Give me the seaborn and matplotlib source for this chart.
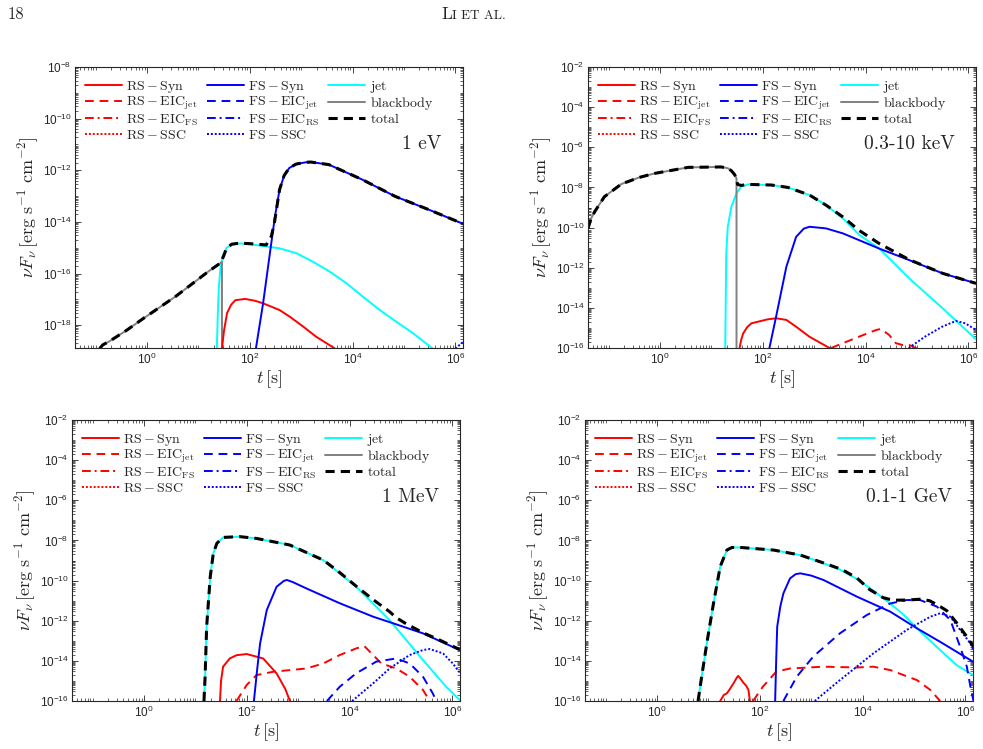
import numpy as np
import matplotlib
matplotlib.use("Agg")
import matplotlib.pyplot as plt
from matplotlib.lines import Line2D
from matplotlib import ticker
import seaborn as sns

# ---------------- data (log10 t [s], log10 nuFnu) ----------------
# Panel A : 1 eV
A_bb_t = [-0.92, -0.86, -0.73, -0.40, -0.08, 0.56, 1.20, 1.35, 1.43, 1.46, 1.46]
A_bb_F = [-18.9, -18.76, -18.62, -18.2, -17.75, -16.88, -15.91, -15.7, -15.59, -15.55, -18.9]
A_jet_t = [1.36, 1.38, 1.40, 1.43, 1.47, 1.55, 1.65, 1.80, 2.00, 2.26, 2.58, 2.91, 3.23, 3.555, 3.88, 4.20, 4.53, 4.85, 5.18, 5.43, 5.56]
A_jet_F = [-18.9, -17.5, -16.5, -15.8, -15.35, -15.0, -14.88, -14.83, -14.86, -14.93, -15.02, -15.21, -15.54, -15.92, -16.37, -16.89, -17.41, -17.86, -18.31, -18.70, -18.9]
A_rssyn_t = [1.46, 1.50, 1.56, 1.64, 1.72, 1.91, 2.10, 2.26, 2.58, 2.78, 3.04, 3.29, 3.65]
A_rssyn_F = [-18.9, -18.2, -17.52, -17.2, -17.03, -16.98, -17.05, -17.15, -17.41, -17.67, -18.05, -18.44, -18.89]
A_fssyn_t = [2.12, 2.26, 2.40, 2.49, 2.58, 2.67, 2.77, 2.90, 3.09, 3.19, 3.54, 4.19, 4.83, 5.48, 6.15]
A_fssyn_F = [-18.9, -17.15, -15.1, -13.8, -12.75, -12.2, -11.91, -11.76, -11.69, -11.68, -11.78, -12.36, -13.01, -13.52, -14.07]
A_fsssc_t = [6.00, 6.15]
A_fsssc_F = [-18.9, -18.65]
A_tot_t = [-0.92, -0.86, -0.73, -0.40, -0.08, 0.56, 1.20, 1.43, 1.49, 1.55, 1.65, 1.80, 2.00, 2.20, 2.32,
           2.42, 2.48, 2.58, 2.67, 2.77, 2.90, 3.09, 3.19, 3.54, 4.19, 4.83, 5.48, 6.15]
A_tot_F = [-18.9, -18.76, -18.62, -18.2, -17.75, -16.88, -15.91, -15.59, -15.33, -15.01, -14.86, -14.82, -14.84, -14.87, -14.89,
           -14.56, -14.04, -12.75, -12.2, -11.91, -11.76, -11.69, -11.68, -11.78, -12.36, -13.01, -13.52, -14.07]

# Panel B : 0.3-10 keV
B_bb_t = [-1.40, -1.34, -1.27, -1.08, -0.75, -0.40, -0.10, 0.55, 1.19, 1.32, 1.39, 1.45, 1.49, 1.49]
B_bb_F = [-10.04, -9.55, -9.21, -8.46, -7.83, -7.5, -7.30, -7.0, -6.98, -7.04, -7.17, -7.35, -7.55, -16.0]
B_jet_t = [1.27, 1.29, 1.32, 1.39, 1.49, 1.58, 1.71, 2.17, 2.49, 2.91, 3.23, 3.56, 3.88, 4.27, 4.85, 5.50, 6.15]
B_jet_F = [-16.0, -11.28, -9.96, -8.96, -8.29, -7.96, -7.85, -7.88, -8.0, -8.38, -8.88, -9.54, -10.37, -11.05, -12.53, -14.02, -15.56]
B_rssyn_t = [1.55, 1.58, 1.62, 1.70, 1.78, 2.10, 2.26, 2.46, 2.65, 2.91, 3.30]
B_rssyn_F = [-16.0, -15.6, -15.27, -14.95, -14.77, -14.57, -14.52, -14.6, -14.94, -15.44, -16.0]
B_rseic_t = [3.33, 3.56, 3.88, 4.21, 4.30, 4.46, 4.59, 4.72, 4.85, 4.98, 5.05]
B_rseic_F = [-16.0, -15.76, -15.43, -15.10, -15.05, -15.35, -15.76, -15.85, -15.85, -16.0, -16.1]
B_fssyn_t = [2.13, 2.26, 2.46, 2.65, 2.80, 2.91, 3.23, 3.56, 4.27, 4.85, 5.50, 6.15]
B_fssyn_F = [-16.0, -14.44, -11.95, -10.46, -10.05, -9.96, -10.04, -10.29, -11.05, -11.62, -12.28, -12.78]
B_fsssc_t = [4.84, 5.16, 5.49, 5.76, 5.94, 6.15]
B_fsssc_F = [-16.0, -15.43, -14.94, -14.65, -14.77, -15.10]
B_tot_t = [-1.40, -1.34, -1.27, -1.08, -0.75, -0.40, -0.10, 0.55, 1.19, 1.32, 1.39, 1.45, 1.49, 1.51, 1.58,
           1.71, 2.17, 2.49, 2.91, 3.23, 3.56, 3.88, 4.27, 4.85, 5.50, 6.15]
B_tot_F = [-10.04, -9.55, -9.21, -8.46, -7.83, -7.5, -7.30, -7.0, -6.98, -7.04, -7.17, -7.35, -7.55, -7.85, -7.9,
           -7.85, -7.88, -8.0, -8.38, -8.88, -9.47, -10.15, -10.8, -11.6, -12.28, -12.78]

# Panel C : 1 MeV
C_jet_t = [1.168, 1.19, 1.22, 1.29, 1.35, 1.42, 1.54, 1.86, 2.19, 2.84, 3.49, 4.13, 4.78, 5.43, 5.88, 6.15]
C_jet_F = [-16.0, -14.79, -12.30, -9.81, -8.64, -8.14, -7.85, -7.81, -7.90, -8.23, -8.98, -10.31, -11.97, -13.96, -15.29, -15.97]
C_rssyn_t = [1.48, 1.50, 1.54, 1.67, 1.80, 2.00, 2.32, 2.58, 2.75, 2.84]
C_rssyn_F = [-16.0, -15.0, -14.29, -13.88, -13.72, -13.66, -13.88, -14.62, -15.4, -16.0]
C_rseic_t = [1.80, 2.00, 2.19, 2.52, 3.16, 3.49, 3.81, 4.13, 4.29, 4.46, 4.62, 4.91, 5.17, 5.43, 5.56]
C_rseic_F = [-16.0, -15.2, -14.71, -14.54, -14.38, -14.13, -13.71, -13.38, -13.27, -13.71, -14.13, -14.38, -14.79, -15.45, -16.0]
C_fssyn_t = [2.14, 2.20, 2.26, 2.39, 2.58, 2.72, 2.78, 2.90, 3.16, 3.81, 4.46, 4.85, 5.43, 6.14]
C_fssyn_F = [-16.0, -14.5, -13.13, -11.47, -10.31, -10.02, -9.97, -10.08, -10.39, -11.13, -11.80, -12.13, -12.63, -13.46]
C_fseic_t = [3.56, 3.81, 4.13, 4.52, 4.91, 5.17, 5.43, 5.62, 5.69]
C_fseic_F = [-16.0, -15.29, -14.62, -14.04, -13.88, -14.13, -14.79, -15.62, -16.0]
C_fsssc_t = [4.05, 4.46, 4.78, 5.17, 5.43, 5.56, 5.82, 6.01, 6.15]
C_fsssc_F = [-16.0, -15.12, -14.38, -13.71, -13.46, -13.41, -13.63, -14.13, -14.6]
C_tot_t = [1.168, 1.19, 1.22, 1.29, 1.35, 1.42, 1.54, 1.86, 2.19, 2.84, 3.49, 3.81, 4.13, 4.46, 4.78, 4.91, 5.10, 5.43, 5.75, 6.14]
C_tot_F = [-16.0, -14.79, -12.30, -9.81, -8.64, -8.14, -7.85, -7.81, -7.90, -8.23, -8.98, -9.6, -10.28, -10.95, -11.55, -11.85, -12.15, -12.6, -12.96, -13.43]

# Panel D : 0.1-1 GeV
D_jet_t = [0.80, 0.87, 0.97, 1.10, 1.23, 1.36, 1.46, 1.62, 2.27, 2.79, 3.24, 3.56, 3.89, 4.21, 4.54, 4.80, 5.06, 5.51, 5.83, 6.15]
D_jet_F = [-16.0, -14.79, -13.13, -11.14, -9.31, -8.48, -8.35, -8.35, -8.48, -8.73, -9.14, -9.45, -9.92, -10.5, -11.15, -11.7, -12.38, -13.46, -14.21, -14.71]
D_rssyn_t = [1.23, 1.30, 1.36, 1.42, 1.49, 1.55, 1.58, 1.63, 1.68, 1.74, 1.78, 1.81]
D_rssyn_F = [-16.0, -15.7, -15.62, -15.4, -15.12, -14.85, -14.75, -14.9, -15.08, -15.25, -15.45, -16.0]
D_rseic_t = [1.87, 2.06, 2.32, 2.59, 3.24, 3.89, 4.21, 4.54, 5.06, 5.32, 5.51]
D_rseic_F = [-16.0, -15.29, -14.54, -14.38, -14.29, -14.33, -14.29, -14.46, -14.96, -15.45, -16.0]
D_fssyn_t = [2.30, 2.32, 2.34, 2.40, 2.46, 2.59, 2.70, 2.79, 3.00, 3.24, 3.89, 4.54, 5.06, 5.51, 6.15]
D_fssyn_F = [-16.0, -14.0, -12.30, -11.3, -10.64, -9.89, -9.68, -9.64, -9.75, -9.97, -10.80, -11.55, -12.38, -13.05, -14.04]
D_fseic_t = [2.46, 2.72, 3.04, 3.56, 4.08, 4.54, 4.86, 5.12, 5.45, 5.71, 5.90, 6.03, 6.10, 6.16]
D_fseic_F = [-16.0, -14.79, -13.79, -12.63, -11.72, -11.14, -10.97, -10.97, -11.30, -11.97, -13.30, -14.29, -15.29, -16.0]
D_fsssc_t = [3.07, 3.56, 4.21, 4.86, 5.32, 5.51, 5.71, 5.90, 6.10, 6.16]
D_fsssc_F = [-16.0, -14.96, -13.63, -12.46, -11.80, -11.63, -11.80, -12.46, -13.13, -13.46]
D_tot_t = [0.80, 0.87, 0.97, 1.10, 1.23, 1.36, 1.46, 1.62, 2.27, 2.79, 3.24, 3.60, 3.89, 4.14, 4.40, 4.59, 4.86,
           5.12, 5.30, 5.45, 5.64, 5.83, 6.03, 6.16]
D_tot_F = [-16.0, -14.79, -13.13, -11.14, -9.31, -8.48, -8.35, -8.35, -8.48, -8.73, -9.12, -9.45, -9.87, -10.45, -10.85, -10.98, -10.97,
           -10.93, -11.0, -11.2, -11.5, -12.1, -12.8, -13.3]

band_labels = ["1 eV", "0.3-10 keV", "1 MeV", "0.1-1 GeV"]
ylog_limits = [(-18.88, -8.0), (-16.0, -2.0), (-16.0, -2.0), (-16.0, -2.0)]
xlog_limits = (-1.4, 6.15)
xtick_vals = [1e0, 1e2, 1e4, 1e6]

legend_keys = ["rssyn", "rseic", "rseicfs", "rsssc", "fssyn", "fseic", "fseicrs", "fsssc", "jet", "bb", "tot"]
legend_labels = [r"$\mathrm{RS}-\mathrm{Syn}$", r"$\mathrm{RS}-\mathrm{EIC_{jet}}$", r"$\mathrm{RS}-\mathrm{EIC_{FS}}$",
                 r"$\mathrm{RS}-\mathrm{SSC}$", r"$\mathrm{FS}-\mathrm{Syn}$", r"$\mathrm{FS}-\mathrm{EIC_{jet}}$",
                 r"$\mathrm{FS}-\mathrm{EIC_{RS}}$", r"$\mathrm{FS}-\mathrm{SSC}$", r"$\mathrm{jet}$",
                 r"$\mathrm{blackbody}$", r"$\mathrm{total}$"]

panels = [
    {"jet": (A_jet_t, A_jet_F), "bb": (A_bb_t, A_bb_F), "rssyn": (A_rssyn_t, A_rssyn_F),
     "fssyn": (A_fssyn_t, A_fssyn_F), "fsssc": (A_fsssc_t, A_fsssc_F), "tot": (A_tot_t, A_tot_F)},
    {"jet": (B_jet_t, B_jet_F), "bb": (B_bb_t, B_bb_F), "rssyn": (B_rssyn_t, B_rssyn_F),
     "rseic": (B_rseic_t, B_rseic_F), "fssyn": (B_fssyn_t, B_fssyn_F), "fsssc": (B_fsssc_t, B_fsssc_F),
     "tot": (B_tot_t, B_tot_F)},
    {"jet": (C_jet_t, C_jet_F), "rssyn": (C_rssyn_t, C_rssyn_F), "rseic": (C_rseic_t, C_rseic_F),
     "fssyn": (C_fssyn_t, C_fssyn_F), "fseic": (C_fseic_t, C_fseic_F), "fsssc": (C_fsssc_t, C_fsssc_F),
     "tot": (C_tot_t, C_tot_F)},
    {"jet": (D_jet_t, D_jet_F), "rssyn": (D_rssyn_t, D_rssyn_F), "rseic": (D_rseic_t, D_rseic_F),
     "fssyn": (D_fssyn_t, D_fssyn_F), "fseic": (D_fseic_t, D_fseic_F), "fsssc": (D_fsssc_t, D_fsssc_F),
     "tot": (D_tot_t, D_tot_F)},
]

# ---------------- styling ----------------
sns.set_theme(style="ticks")
plt.rcParams["font.family"] = ["Liberation Sans", "DejaVu Sans"]
plt.rcParams["mathtext.fontset"] = "cm"
plt.rcParams["axes.linewidth"] = 0.8
plt.rcParams["axes.edgecolor"] = "#262626"

RED, BLUE, CYAN, GRAY = "#FF0000", "#0000FF", "#00FFFF", "#808080"
styles = {
    "rssyn": dict(color=RED, lw=1.4, ls="-"),
    "rseic": dict(color=RED, lw=1.4, ls=(0, (4.5, 3))),
    "rseicfs": dict(color=RED, lw=1.4, ls=(0, (4.5, 2, 1, 2))),
    "rsssc": dict(color=RED, lw=1.4, ls=(0, (1, 1))),
    "fssyn": dict(color=BLUE, lw=1.4, ls="-"),
    "fseic": dict(color=BLUE, lw=1.4, ls=(0, (4.5, 3))),
    "fseicrs": dict(color=BLUE, lw=1.4, ls=(0, (4.5, 2, 1, 2))),
    "fsssc": dict(color=BLUE, lw=1.4, ls=(0, (1, 1))),
    "jet": dict(color=CYAN, lw=1.4, ls="-"),
    "bb": dict(color=GRAY, lw=1.4, ls="-"),
    "tot": dict(color="black", lw=2.2, ls=(0, (3, 2))),
}
draw_order = ["jet", "bb", "rssyn", "rseic", "rseicfs", "rsssc", "fsssc", "fseic", "fseicrs", "fssyn", "tot"]

fig = plt.figure(figsize=(9.83, 7.49), dpi=100)
W, H = 983.0, 749.0
boxes = [(75, 67), (588, 67), (72, 420), (585, 420)]
aw, ah = 388.0, 281.0

for i, (px, py) in enumerate(boxes):
    ax = fig.add_axes([px / W, 1 - (py + ah) / H, aw / W, ah / H])
    ax.set_xscale("log")
    ax.set_yscale("log")
    curves = panels[i]
    for key in draw_order:
        if key not in curves:
            continue
        t, F = curves[key]
        st = styles[key]
        sns.lineplot(x=10.0 ** np.asarray(t), y=10.0 ** np.asarray(F), ax=ax, color=st["color"],
                     linewidth=st["lw"], linestyle=st["ls"], estimator=None, sort=False, legend=False)
    ax.set_xlim(10 ** xlog_limits[0], 10 ** xlog_limits[1])
    lo, hi = ylog_limits[i]
    ax.set_ylim(10 ** lo, 10 ** hi)
    ax.xaxis.set_major_locator(ticker.FixedLocator(xtick_vals))
    ax.yaxis.set_major_locator(ticker.LogLocator(base=100.0, numticks=20))
    ax.xaxis.set_minor_locator(ticker.LogLocator(base=10.0, subs=np.arange(1, 10), numticks=40))
    ax.yaxis.set_minor_locator(ticker.LogLocator(base=10.0, subs=np.arange(1, 10), numticks=40))
    ax.xaxis.set_minor_formatter(ticker.NullFormatter())
    ax.yaxis.set_minor_formatter(ticker.NullFormatter())
    ax.tick_params(which="both", direction="in", top=True, right=True, colors="#262626", labelsize=8.5)
    ax.tick_params(which="major", length=4, width=0.6, pad=2.5)
    ax.tick_params(which="minor", length=2.2, width=0.5)
    ax.set_xlabel(r"$t\,[\mathrm{s}]$", fontsize=13, labelpad=1)
    ax.set_ylabel(r"$\nu F_\nu\,[\mathrm{erg\ s^{-1}\ cm^{-2}}]$", fontsize=13, labelpad=1)
    ax.text(0.945, 0.725, band_labels[i], transform=ax.transAxes, ha="right", va="center",
            fontsize=14, family="cmr10")

    handles = []
    for key in legend_keys:
        st = styles[key]
        handles.append(Line2D([], [], color=st["color"], lw=st["lw"], ls=st["ls"]))
    ax.legend(handles, legend_labels, ncol=3, loc="upper left", bbox_to_anchor=(0.025, 0.958),
              frameon=False, fontsize=10, handlelength=2.7, handletextpad=0.3, columnspacing=0.6,
              labelspacing=0.0, borderaxespad=0, borderpad=0.0)

# page header
fig.text(8 / W, 1 - 14 / H, "18", ha="left", va="center", fontsize=12, family="cmr10")
fig.text(441 / W, 1 - 14 / H, "L", ha="left", va="center", fontsize=12.5, family="cmr10")
fig.text(452 / W, 1 - 15.5 / H, "I ET AL.", ha="left", va="center", fontsize=9.5, family="cmr10")

fig.savefig("out.png", dpi=100)
